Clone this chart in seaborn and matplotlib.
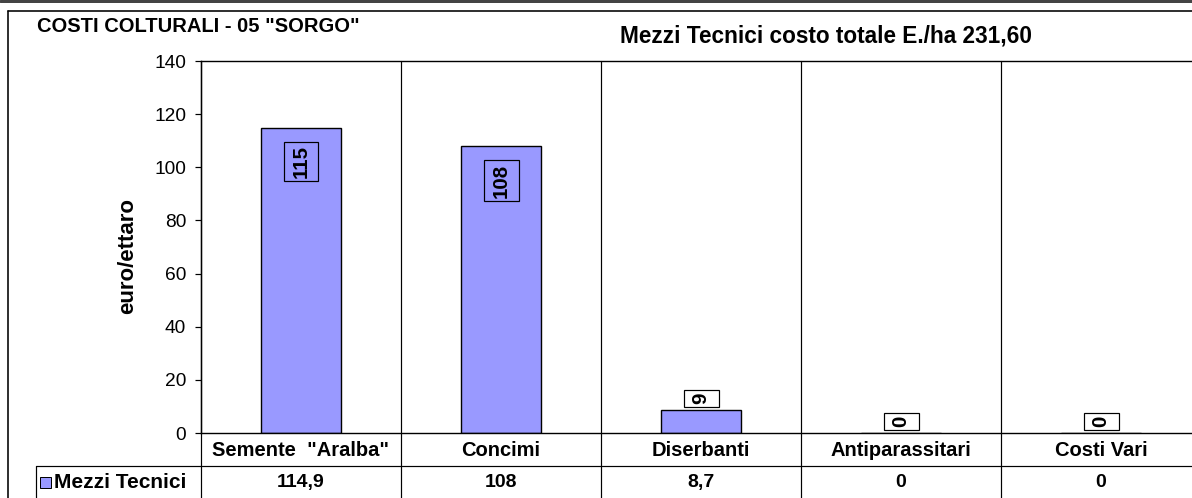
import matplotlib
matplotlib.use("Agg")
import matplotlib.pyplot as plt
import seaborn as sns
import pandas as pd
from matplotlib.lines import Line2D
from matplotlib.patches import Rectangle

# ---- data ----
categories = ['Semente  "Aralba"', 'Concimi', 'Diserbanti', 'Antiparassitari', 'Costi Vari']
values = [114.9, 108, 8.7, 0, 0]
table_labels = ['114,9', '108', '8,7', '0', '0']
series_name = 'Mezzi Tecnici'
yticks = [0, 20, 40, 60, 80, 100, 120, 140]
title_left = 'COSTI COLTURALI - 05 "SORGO"'
title_right = 'Mezzi Tecnici costo totale E./ha 231,60'
ylabel = 'euro/ettaro'

BAR_COLOR = '#9999FF'

sns.set_theme(style='white')
plt.rcParams['font.family'] = ['Liberation Sans', 'DejaVu Sans']

W, H = 1192, 498
fig = plt.figure(figsize=(W / 100, H / 100), dpi=100)
fig.patch.set_facecolor('white')


def fx(px):
    return px / W


def fy(py):
    return 1 - py / H


PX = 0.72  # 1 pixel in points

# plot area: x 201..1201 px, y 61..433 px
ax = fig.add_axes([fx(201), fy(433), 1000 / W, 372 / H])
df = pd.DataFrame({'cat': categories, 'val': values})
sns.barplot(data=df, x='cat', y='val', color=BAR_COLOR, saturation=1,
            width=0.4, edgecolor='black', linewidth=1.4 * PX, ax=ax)
ax.set_xlim(-0.5, len(categories) - 0.5)
ax.set_ylim(0, 140)
ax.set_yticks(yticks)
ax.set_yticklabels([str(t) for t in yticks])
ax.set_xlabel('')
ax.set_ylabel('')
ax.set_facecolor('white')
for s in ['left', 'top', 'bottom']:
    ax.spines[s].set_visible(True)
    ax.spines[s].set_color('black')
    ax.spines[s].set_linewidth(1.4 * PX)
ax.spines['right'].set_visible(False)
ax.tick_params(axis='y', direction='out', length=6 * PX, width=1.2 * PX,
               color='black', labelsize=13.8, pad=9 * PX, left=True,
               labelcolor='black')
ax.tick_params(axis='x', length=0, labelsize=14.5, pad=8 * PX, labelcolor='black')
for t in ax.get_xticklabels():
    t.set_fontweight('bold')

# category separators extending through the data table
xt = ax.get_xaxis_transform()
bottom_frac = -65 / 372
for i in range(len(categories)):
    ax.plot([i - 0.5, i - 0.5], [bottom_frac, 1], transform=xt, color='black',
            lw=1.2 * PX, clip_on=False, zorder=0.5)

# bar value labels (rotated, boxed)
label_texts = []
for bar, v in zip(ax.patches, values):
    cx = bar.get_x() + bar.get_width() / 2
    top = bar.get_height()
    lab = f"{v:.0f}"
    inside = top * 372 / 140 > 60
    kw = dict(rotation=90, ha='center', fontsize=14.8, fontweight='bold',
              color='black', textcoords='offset points', zorder=5)
    if inside:
        t = ax.annotate(lab, (cx, top), xytext=(0, -12.5), va='top', **kw)
    else:
        t = ax.annotate(lab, (cx, top), xytext=(0, 4), va='bottom', **kw)
    label_texts.append(t)

fig.canvas.draw()
renderer = fig.canvas.get_renderer()
BOX_W = 35.0  # label box width in pixels
for t in label_texts:
    bb = t.get_window_extent(renderer)
    pady = 3.0
    xc = (bb.x0 + bb.x1) / 2
    x0, y0 = xc - BOX_W / 2, bb.y0 - pady
    fig.add_artist(Rectangle((x0 / W, y0 / H), BOX_W / W,
                             (bb.height + 2 * pady) / H, transform=fig.transFigure,
                             fc='none', ec='black', lw=1.2 * PX, zorder=6))

# data table values
for i, lab in enumerate(table_labels):
    ax.text(i, (433 - 482) / 372, lab, transform=xt, ha='center', va='center',
            fontsize=14, fontweight='bold', color='black', clip_on=False)

# table row line and legend cell
fig.add_artist(Line2D([fx(36), 1], [fy(466), fy(466)], transform=fig.transFigure,
                      color='black', lw=1.2 * PX))
fig.add_artist(Line2D([fx(36), fx(36)], [fy(466), 0], transform=fig.transFigure,
                      color='black', lw=1.2 * PX))
fig.add_artist(Rectangle((fx(40), fy(488)), 11 / W, 11 / H, transform=fig.transFigure,
                         fc=BAR_COLOR, ec='black', lw=1.0 * PX))
fig.text(fx(54), fy(482), series_name, ha='left', va='center', fontsize=15,
         fontweight='bold', color='black')

# frames
fig.add_artist(Line2D([0, 1], [fy(1.5), fy(1.5)], transform=fig.transFigure,
                      color='#444444', lw=3 * PX))
fig.add_artist(Line2D([fx(8), 1], [fy(11), fy(11)], transform=fig.transFigure,
                      color='black', lw=1.6 * PX))
fig.add_artist(Line2D([fx(8), fx(8)], [fy(11), 0], transform=fig.transFigure,
                      color='black', lw=1.6 * PX))

# titles and y label
fig.text(fx(37), fy(27), title_left, ha='left', va='center', fontsize=14.5,
         fontweight='bold', color='black')
fig.text(fx(620), fy(36), title_right, ha='left', va='center', fontsize=16.3,
         fontweight='bold', color='black')
fig.text(fx(128), fy(256), ylabel, ha='center', va='center', rotation=90,
         fontsize=16, fontweight='bold', color='black')

fig.savefig('out.png', dpi=100)
